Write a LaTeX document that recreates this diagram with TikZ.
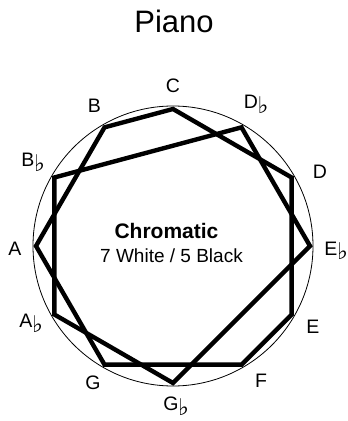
\documentclass[tikz,border=0pt]{standalone}
\usepackage{fontspec}
\setmainfont{Liberation Sans}
\newfontfamily\symfont{DejaVu Sans}
\usetikzlibrary{calc}
\newcommand{\flt}{\rlap{\smash{\kern-0.5pt\raisebox{-4.5pt}{\symfont\fontsize{23}{23}\selectfont ♭}}}}
\begin{document}
\begin{tikzpicture}[x=1pt,y=1pt,
  lbl/.style={inner sep=0pt, font=\fontsize{19.5}{20}\selectfont},
  keyline/.style={line width=4.4pt, line join=miter, draw=black},
  rim/.style={line width=0.8pt, draw=black}]
\useasboundingbox (0,0) rectangle (348,421);
\coordinate (O) at (173,175);
\draw[rim] (O) circle[radius=140];
\foreach \n/\a in {C/90,Db/60,D/30,Eb/0,E/-30,F/-60,Gb/-90,G/-120,Ab/-150,A/180,Bb/150,B/120}
  \coordinate (v\n) at ($(O)+(\a:137)$);
\draw[keyline] (vC) -- (vD) -- (vE) -- (vF) -- (vG) -- (vA) -- (vB) -- cycle;
\draw[keyline] (vDb) -- (vEb) -- (vGb) -- (vAb) -- (vBb) -- cycle;
\node[inner sep=0pt, anchor=base, font=\fontsize{31}{34}\selectfont] (title) at (174,388) {Piano};
\node[lbl] (lC) at (173,335) {C};
\node[lbl] (lDb) at (251,319) {D\flt};
\node[lbl] (lD) at (320,249) {D};
\node[lbl] (lEb) at (331,172.5) {E\flt};
\node[lbl] (lE) at (313,94) {E};
\node[lbl] (lF) at (261,40) {F};
\node[lbl] (lGb) at (171,17) {G\flt};
\node[lbl] (lG) at (93,38) {G};
\node[lbl] (lAb) at (26,100) {A\flt};
\node[lbl] (lA) at (15,172) {A};
\node[lbl] (lBb) at (28,261) {B\flt};
\node[lbl] (lB) at (94.5,315) {B};
\node[inner sep=0pt, anchor=base, font=\bfseries\fontsize{21}{24}\selectfont] (chrom) at (166.5,182.7) {Chromatic};
\node[inner sep=0pt, anchor=base, font=\fontsize{19}{22}\selectfont] (count) at (171.5,158.3) {7 White / 5 Black};
\end{tikzpicture}
\end{document}
